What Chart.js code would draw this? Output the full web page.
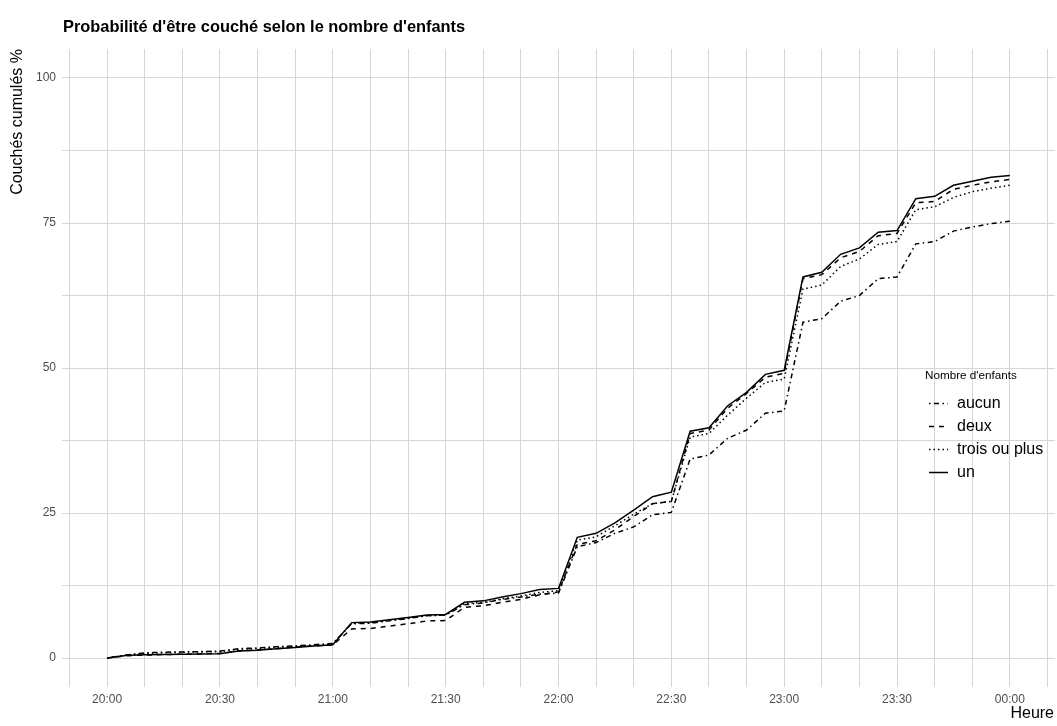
<!DOCTYPE html>
<html><head><meta charset="utf-8">
<script src="https://cdn.jsdelivr.net/npm/chart.js@4/dist/chart.umd.min.js"></script>
<style>html,body{margin:0;padding:0;background:#fff}canvas{display:block}</style>
</head><body>
<canvas id="c" width="1057" height="726"></canvas>
<script>
const heures = ["20:00","20:05","20:10","20:15","20:20","20:25","20:30","20:35","20:40","20:45","20:50","20:55",
  "21:00","21:05","21:10","21:15","21:20","21:25","21:30","21:35","21:40","21:45","21:50","21:55",
  "22:00","22:05","22:10","22:15","22:20","22:25","22:30","22:35","22:40","22:45","22:50","22:55",
  "23:00","23:05","23:10","23:15","23:20","23:25","23:30","23:35","23:40","23:45","23:50","23:55","00:00"];
const tickLabels = ["20:00","20:30","21:00","21:30","22:00","22:30","23:00","23:30","00:00"];
const yTickLabels = ["0","25","50","75","100"];
const seriesNames = ["aucun","deux","trois ou plus","un"];
const aucun = [0,0.5,0.9,1.0,1.05,1.1,1.2,1.6,1.75,1.95,2.1,2.3,
  2.5,5.9,6.0,6.4,6.8,7.3,7.4,9.2,9.5,10.1,10.5,11.0,
  11.2,19.2,19.9,21.5,22.6,24.7,25.1,34.3,35.0,37.9,39.3,42.2,
  42.6,57.9,58.5,61.5,62.5,65.4,65.7,71.4,71.8,73.6,74.3,74.9,75.3];
const deux = [0,0.4,0.5,0.6,0.65,0.7,0.8,1.2,1.4,1.6,1.9,2.1,
  2.25,5.0,5.1,5.5,5.9,6.4,6.45,8.75,9.0,9.6,10.1,10.9,
  11.4,19.6,20.2,22.1,24.4,26.6,27.0,38.7,39.3,43.1,45.6,48.4,
  49.1,65.4,66.1,69.0,70.1,72.8,73.2,78.5,78.7,80.8,81.5,82.1,82.5];
const troisOuPlus = [0,0.5,0.8,0.9,1.0,1.05,1.1,1.5,1.6,1.85,2.0,2.2,
  2.4,6.0,6.1,6.5,6.9,7.3,7.4,9.4,9.6,10.2,10.7,11.3,
  11.6,20.3,20.9,22.8,24.8,26.6,27.0,38.1,38.7,41.9,44.8,47.5,
  48.1,63.6,64.3,67.5,68.8,71.3,71.8,77.3,77.8,79.4,80.4,81.0,81.5];
const un = [0,0.45,0.55,0.6,0.65,0.7,0.75,1.2,1.35,1.6,1.8,2.05,
  2.3,6.1,6.2,6.6,7.0,7.4,7.5,9.6,9.85,10.5,11.1,11.8,
  12.0,20.8,21.5,23.3,25.5,27.8,28.6,39.1,39.7,43.5,45.8,48.9,
  49.6,65.7,66.5,69.6,70.7,73.4,73.7,79.2,79.6,81.5,82.2,82.9,83.2];
const titleText = "Probabilité d'être couché selon le nombre d'enfants";
const yTitle = "Couchés cumulés %";
const xTitle = "Heure";
const legendTitle = "Nombre d'enfants";

function toMinutes(h){ const p = h.split(':').map(Number); return ((p[0]-20+24)%24)*60 + p[1]; }
const xs = heures.map(toMinutes);
const seriesValues = [aucun, deux, troisOuPlus, un];
const dashes = [[1.5,3.5,5,3.5],[5,5],[1.5,3],[]];

const datasets = seriesNames.map((n,i)=>({
  label:n,
  data: xs.map((x,j)=>({x:x, y:seriesValues[i][j]})),
  borderColor:'#000', borderWidth:1.5, borderDash:dashes[i],
  pointRadius:0, fill:false, tension:0
}));

const FONT = '"Liberation Sans", Arial, sans-serif';
const gridColor = '#d6d6d6';

const textPlugin = {
  id:'texts',
  afterDraw(chart){
    const ctx = chart.ctx;
    ctx.save();
    ctx.fillStyle = '#000';
    ctx.textAlign = 'left'; ctx.textBaseline = 'alphabetic';
    ctx.font = 'bold 16.4px ' + FONT;
    ctx.fillText(titleText, 63, 32);
    // x title
    ctx.font = '16px ' + FONT;
    ctx.textAlign = 'right';
    ctx.fillText(xTitle, 1054, 718);
    // y title
    ctx.save();
    ctx.translate(18, 49);
    ctx.rotate(-Math.PI/2);
    ctx.textAlign = 'right'; ctx.textBaseline = 'middle';
    ctx.fillText(yTitle, 0, 0);
    ctx.restore();
    // legend
    ctx.textAlign = 'left'; ctx.textBaseline = 'middle';
    ctx.font = '11.7px ' + FONT;
    ctx.fillText(legendTitle, 925, 376);
    chart.data.datasets.forEach((ds,i)=>{
      const y = 403 + i*23;
      ctx.save();
      ctx.strokeStyle = ds.borderColor; ctx.lineWidth = ds.borderWidth;
      ctx.setLineDash(ds.borderDash);
      ctx.beginPath(); ctx.moveTo(929, y+0.5); ctx.lineTo(948, y+0.5); ctx.stroke();
      ctx.restore();
      ctx.font = '16px ' + FONT;
      ctx.fillText(ds.label, 957, y+1);
    });
    ctx.restore();
  }
};

new Chart(document.getElementById('c'), {
  type:'line',
  data:{datasets},
  options:{
    responsive:false, animation:false,
    layout:{padding:{top:49,right:2,left:0,bottom:0}},
    plugins:{legend:{display:false}, title:{display:false}, tooltip:{enabled:false}},
    scales:{
      x:{type:'linear', min:-12, max:252,
        afterFit(s){ s.height = 39; },
        border:{display:false},
        grid:{color:gridColor, lineWidth:1, drawTicks:false},
        ticks:{stepSize:10, includeBounds:false, autoSkip:false, maxRotation:0, padding:5,
          color:'#4d4d4d', font:{family:FONT, size:12},
          callback(v){ return (v%30===0 && v>=0 && v<=240) ? tickLabels[v/30] : ''; }}
      },
      y:{type:'linear', min:-5, max:105,
        afterFit(s){ s.width = 62; },
        border:{display:false},
        grid:{color:gridColor, lineWidth:1, drawTicks:false},
        ticks:{stepSize:12.5, includeBounds:false, padding:6,
          color:'#4d4d4d', font:{family:FONT, size:12},
          callback(v){ return (v%25===0 && v>=0 && v<=100) ? yTickLabels[v/25] : ''; }}
      }
    }
  },
  plugins:[textPlugin]
});
</script>
</body></html>
